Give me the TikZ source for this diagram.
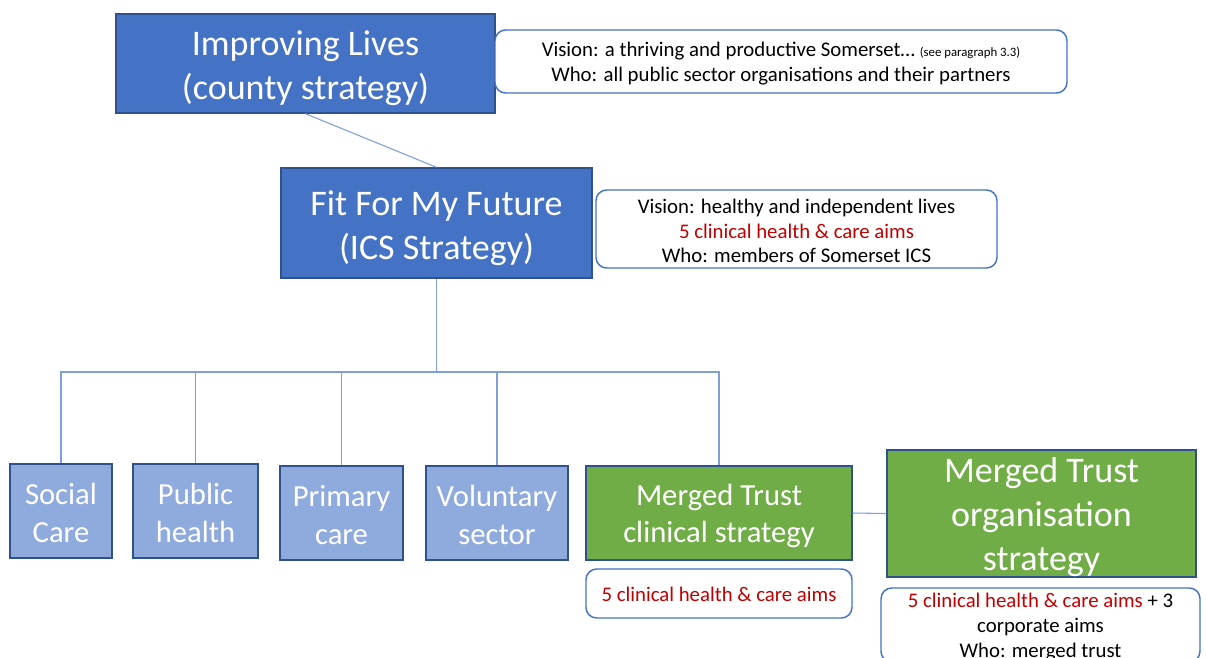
\documentclass[tikz,border=0pt]{standalone}
\usepackage{fontspec}
\setmainfont{Carlito}
\definecolor{dkblue}{HTML}{4472C4}
\definecolor{bdblue}{HTML}{2F528F}
\definecolor{ltblue}{HTML}{8FAADC}
\definecolor{trgreen}{HTML}{70AD47}
\definecolor{aimred}{HTML}{C00000}
\definecolor{linkblue}{HTML}{7F9FD8}
\tikzset{
  bigbox/.style={draw=bdblue, line width=1.1pt, fill=dkblue, inner sep=0pt},
  smallbox/.style={draw=bdblue, line width=1.1pt, fill=ltblue, inner sep=0pt},
  greenbox/.style={draw=bdblue, line width=1.1pt, fill=trgreen, inner sep=0pt},
  notebox/.style={draw=dkblue, line width=1.1pt, fill=white, rounded corners=8pt, inner sep=0pt},
  bigtext/.style={text=white, inner sep=0pt, align=center, font=\fontsize{27}{33}\selectfont},
  midtext/.style={text=white, inner sep=0pt, align=center, font=\fontsize{23}{28}\selectfont},
  notetext/.style={text=black, inner sep=0pt, align=center, font=\fontsize{15.6}{18.5}\selectfont},
  link/.style={draw=linkblue, line width=0.8pt},
}
\begin{document}
\begin{tikzpicture}[x=0.75pt,y=-0.75pt]
\useasboundingbox (0,0) rectangle (1206,657);
\clip (0,0) rectangle (1206,657);
\fill[white] (0,0) rectangle (1206,657);
% top level
\node[bigbox, minimum width=284.25pt, minimum height=74.25pt] (il) at (305.5,63.5) {};
\node[bigtext] (ilt) at ([yshift=-3.75pt]il.center) {Improving Lives\\(county strategy)};
\node[notebox, minimum width=429pt, minimum height=47.25pt] (v1) at (781,61.5) {};
\node[notetext] (v1t) at ([yshift=-1.5pt]v1.center)
  {Vision: a thriving and productive Somerset\dots\ {\fontsize{9.6}{10}\selectfont (see paragraph 3.3)}\\Who: all public sector organisations and their partners};
% ICS
\node[bigbox, minimum width=233.25pt, minimum height=82.5pt] (fit) at (436.5,223) {};
\node[bigtext] (fitt) at ([yshift=-4pt]fit.center) {Fit For My Future\\(ICS Strategy)};
\node[notebox, minimum width=300.75pt, minimum height=58.5pt] (v2) at (796.5,229) {};
\node[notetext] (v2t) at ([yshift=-1.5pt]v2.center)
  {Vision: healthy and independent lives\\\textcolor{aimred}{5 clinical health \& care aims}\\Who: members of Somerset ICS};
% children
\node[smallbox, minimum width=76.5pt, minimum height=70.5pt] (social) at (61,511) {};
\node[midtext] (socialt) at ([yshift=-1.5pt]social.center) {Social\\Care};
\node[smallbox, minimum width=93.75pt, minimum height=70.5pt] (public) at (195.5,511) {};
\node[midtext] (publict) at ([yshift=-1.5pt]public.center) {Public\\health};
\node[smallbox, minimum width=92.25pt, minimum height=70.5pt] (primary) at (341.5,513) {};
\node[midtext] (primaryt) at ([yshift=-1.5pt]primary.center) {Primary\\care};
\node[smallbox, minimum width=106.5pt, minimum height=70.5pt] (vol) at (497,513) {};
\node[midtext] (volt) at ([yshift=-1.5pt]vol.center) {Voluntary\\sector};
\node[greenbox, minimum width=199.5pt, minimum height=70.5pt] (clin) at (719,513) {};
\node[midtext] (clint) at ([yshift=-2pt]clin.center) {Merged Trust\\clinical strategy};
\node[greenbox, minimum width=231.75pt, minimum height=95.25pt] (org) at (1041.5,513.5) {};
\node[bigtext] (orgt) at ([yshift=-2.6pt]org.center) {Merged Trust\\organisation\\strategy};
% notes below
\node[notebox, minimum width=199.5pt, minimum height=36.75pt] (n1) at (719,593.5) {};
\node[notetext] (n1t) at ([yshift=-0.75pt]n1.center) {\textcolor{aimred}{5 clinical health \& care aims}};
\node[notebox, minimum width=239.25pt, minimum height=55.5pt] (n2) at (1040.5,625) {};
\node[notetext] (n2t) at ([yshift=-1.5pt]n2.center) {\textcolor{aimred}{5 clinical health \& care aims} + 3\\corporate aims\\Who: merged trust};
% connectors
\coordinate (bus) at (436.5,372);
\draw[link] (il.south) -- (fit.north);
\draw[link] (fit.south) -- (bus);
\draw[link] (bus) -| (social.north);
\draw[link] (bus) -| (public.north);
\draw[link] (bus) -| (primary.north);
\draw[link] (bus) -| (vol.north);
\draw[link] (bus) -| (clin.north);
\draw[link] (clin.east) -- (org.west);
\end{tikzpicture}
\end{document}
